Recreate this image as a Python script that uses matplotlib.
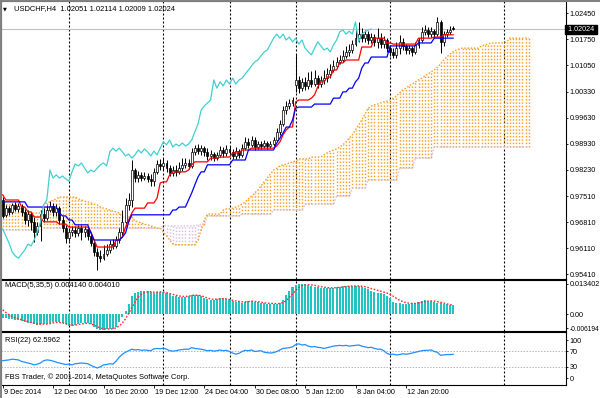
import numpy as np
import matplotlib
matplotlib.use("Agg")
import matplotlib.pyplot as plt
from matplotlib.transforms import ScaledTranslation

plt.rcParams['font.family'] = ['Liberation Sans', 'DejaVu Sans']

# ---------------- data ----------------
title_text = "USDCHF,H4  1.02051 1.02114 1.02009 1.02024"

open_ = [0.9741, 0.9701, 0.9719, 0.9709, 0.9728, 0.9717, 0.9725, 0.9709, 0.9687, 0.9703,
         0.9682, 0.9655, 0.9671, 0.9703, 0.9692, 0.9714, 0.9725, 0.9709, 0.9719, 0.9687,
         0.9665, 0.9638, 0.9655, 0.9660, 0.9652, 0.9665, 0.9655, 0.9663, 0.9644, 0.9625,
         0.9601, 0.9590, 0.9584, 0.9595, 0.9606, 0.9622, 0.9617, 0.9633, 0.9655, 0.9682,
         0.9728, 0.9741, 0.9822, 0.9800, 0.9809, 0.9800, 0.9806, 0.9798, 0.9792, 0.9817,
         0.9838, 0.9833, 0.9841, 0.9827, 0.9814, 0.9822, 0.9817, 0.9827, 0.9836, 0.9841,
         0.9833, 0.9871, 0.9881, 0.9873, 0.9881, 0.9871, 0.9860, 0.9865, 0.9854, 0.9863,
         0.9876, 0.9868, 0.9879, 0.9871, 0.9860, 0.9873, 0.9863, 0.9881, 0.9898, 0.9890,
         0.9903, 0.9884, 0.9892, 0.9887, 0.9895, 0.9887, 0.9892, 0.9903, 0.9925, 0.9946,
         0.9984, 0.9995, 1.0003, 1.0052, 1.0065, 1.0043, 1.0060, 1.0049, 1.0065, 1.0054,
         1.0070, 1.0054, 1.0065, 1.0070, 1.0081, 1.0092, 1.0103, 1.0114, 1.0119, 1.0130,
         1.0141, 1.0146, 1.0162, 1.0178, 1.0189, 1.0178, 1.0189, 1.0173, 1.0181, 1.0168,
         1.0178, 1.0162, 1.0173, 1.0151, 1.0141, 1.0133, 1.0151, 1.0168, 1.0157, 1.0146,
         1.0151, 1.0141, 1.0160, 1.0173, 1.0195, 1.0200, 1.0189, 1.0197, 1.0189, 1.0222,
         1.0168, 1.0189, 1.0195, 1.02051]
high_ = [0.9749, 0.9728, 0.9725, 0.9733, 0.9736, 0.9733, 0.9730, 0.9717, 0.9714, 0.9709,
         0.9695, 0.9682, 0.9714, 0.9719, 0.9728, 0.9738, 0.9733, 0.9730, 0.9725, 0.9698,
         0.9674, 0.9665, 0.9671, 0.9671, 0.9674, 0.9674, 0.9671, 0.9668, 0.9652, 0.9633,
         0.9611, 0.9606, 0.9620, 0.9622, 0.9633, 0.9636, 0.9644, 0.9665, 0.9714, 0.9746,
         0.9760, 0.9849, 0.9827, 0.9819, 0.9817, 0.9817, 0.9814, 0.9811, 0.9827, 0.9849,
         0.9852, 0.9854, 0.9849, 0.9836, 0.9833, 0.9836, 0.9844, 0.9854, 0.9854, 0.9852,
         0.9881, 0.9890, 0.9892, 0.9890, 0.9887, 0.9881, 0.9876, 0.9871, 0.9871, 0.9887,
         0.9884, 0.9890, 0.9887, 0.9879, 0.9884, 0.9879, 0.9892, 0.9911, 0.9908, 0.9914,
         0.9911, 0.9900, 0.9900, 0.9903, 0.9900, 0.9900, 0.9911, 0.9935, 0.9957, 0.9995,
         1.0008, 1.0014, 1.0019, 1.0135, 1.0076, 1.0070, 1.0073, 1.0087, 1.0089, 1.0092,
         1.0079, 1.0076, 1.0092, 1.0097, 1.0108, 1.0119, 1.0127, 1.0133, 1.0146, 1.0157,
         1.0162, 1.0173, 1.0200, 1.0222, 1.0205, 1.0200, 1.0197, 1.0192, 1.0189, 1.0205,
         1.0192, 1.0184, 1.0178, 1.0160, 1.0151, 1.0168, 1.0187, 1.0178, 1.0162, 1.0160,
         1.0157, 1.0168, 1.0178, 1.0208, 1.0214, 1.0208, 1.0208, 1.0203, 1.0235, 1.0227,
         1.0197, 1.0203, 1.0211, 1.02114]
low_ = [0.9692, 0.9695, 0.9701, 0.9703, 0.9711, 0.9709, 0.9698, 0.9676, 0.9671, 0.9660,
        0.9628, 0.9647, 0.9630, 0.9682, 0.9687, 0.9709, 0.9698, 0.9698, 0.9676, 0.9655,
        0.9625, 0.9630, 0.9644, 0.9641, 0.9644, 0.9633, 0.9641, 0.9633, 0.9617, 0.9590,
        0.9552, 0.9574, 0.9579, 0.9590, 0.9598, 0.9609, 0.9611, 0.9625, 0.9644, 0.9671,
        0.9714, 0.9722, 0.9790, 0.9790, 0.9792, 0.9795, 0.9790, 0.9779, 0.9779, 0.9811,
        0.9822, 0.9822, 0.9817, 0.9806, 0.9806, 0.9806, 0.9811, 0.9819, 0.9827, 0.9825,
        0.9827, 0.9863, 0.9865, 0.9863, 0.9860, 0.9849, 0.9849, 0.9846, 0.9849, 0.9857,
        0.9857, 0.9860, 0.9860, 0.9852, 0.9852, 0.9854, 0.9857, 0.9876, 0.9881, 0.9884,
        0.9876, 0.9879, 0.9879, 0.9881, 0.9879, 0.9881, 0.9887, 0.9898, 0.9917, 0.9941,
        0.9973, 0.9987, 0.9995, 1.0033, 1.0030, 1.0035, 1.0038, 1.0041, 1.0046, 1.0049,
        1.0043, 1.0046, 1.0054, 1.0060, 1.0070, 1.0087, 1.0097, 1.0108, 1.0114, 1.0124,
        1.0130, 1.0138, 1.0157, 1.0168, 1.0168, 1.0168, 1.0162, 1.0165, 1.0157, 1.0151,
        1.0151, 1.0151, 1.0141, 1.0130, 1.0124, 1.0124, 1.0135, 1.0146, 1.0135, 1.0135,
        1.0130, 1.0135, 1.0151, 1.0168, 1.0187, 1.0181, 1.0181, 1.0178, 1.0184, 1.0138,
        1.0157, 1.0181, 1.0189, 1.02009]
close_ = [0.9698, 0.9719, 0.9709, 0.9728, 0.9717, 0.9725, 0.9709, 0.9687, 0.9703, 0.9682,
          0.9655, 0.9671, 0.9703, 0.9692, 0.9714, 0.9725, 0.9709, 0.9719, 0.9687, 0.9665,
          0.9638, 0.9655, 0.9660, 0.9652, 0.9665, 0.9655, 0.9663, 0.9644, 0.9625, 0.9601,
          0.9590, 0.9584, 0.9595, 0.9606, 0.9622, 0.9617, 0.9633, 0.9655, 0.9682, 0.9728,
          0.9741, 0.9822, 0.9800, 0.9809, 0.9800, 0.9806, 0.9798, 0.9792, 0.9817, 0.9838,
          0.9833, 0.9841, 0.9827, 0.9814, 0.9822, 0.9817, 0.9827, 0.9836, 0.9841, 0.9833,
          0.9871, 0.9881, 0.9873, 0.9881, 0.9871, 0.9860, 0.9865, 0.9854, 0.9863, 0.9876,
          0.9868, 0.9879, 0.9871, 0.9860, 0.9873, 0.9863, 0.9881, 0.9898, 0.9890, 0.9903,
          0.9884, 0.9892, 0.9887, 0.9895, 0.9887, 0.9892, 0.9903, 0.9925, 0.9946, 0.9984,
          0.9995, 1.0003, 1.0011, 1.0065, 1.0043, 1.0060, 1.0049, 1.0065, 1.0054, 1.0070,
          1.0054, 1.0065, 1.0070, 1.0081, 1.0092, 1.0103, 1.0114, 1.0119, 1.0130, 1.0141,
          1.0146, 1.0162, 1.0178, 1.0189, 1.0178, 1.0189, 1.0173, 1.0181, 1.0168, 1.0178,
          1.0162, 1.0173, 1.0151, 1.0141, 1.0133, 1.0151, 1.0168, 1.0157, 1.0146, 1.0151,
          1.0141, 1.0160, 1.0173, 1.0195, 1.0200, 1.0189, 1.0197, 1.0189, 1.0222, 1.0168,
          1.0189, 1.0195, 1.0200, 1.02024]

tenkan = ([0.9755] + [0.9741]*5 + [0.9722]*2 + [0.9709]*2 + [0.9695]*3 + [0.9682]*5 +
          [0.9676]*3 + [0.9668]*7 + [0.9655] + [0.9633] + [0.9614]*6 + [0.9633]*2 +
          [0.9641] + [0.9668] + [0.9687] + [0.9706] + [0.9719]*4 + [0.9733]*3 + [0.9746] +
          [0.9787] + [0.9790]*2 + [0.9809] + [0.9817]*5 + [0.9822] + [0.9836] + [0.9844]*5 +
          [0.9854]*3 + [0.9857]*4 + [0.9868]*3 + [0.9876]*3 + [0.9881]*8 + [0.9887] +
          [0.9898] + [0.9917] + [0.9930] + [0.9938]*2 + [1.0006] + [1.0011]*4 + [1.0016] +
          [1.0025] + [1.0046] + [1.0060]*2 + [1.0073]*2 + [1.0092]*2 + [1.0111]*2 +
          [1.0119]*5 + [1.0154]*4 + [1.0178]*4 + [1.0165]*2 + [1.0162]*8 + [1.0178]*5 +
          [1.0181]*3 + [1.0187]*4)
kijun = ([0.9736]*8 + [0.9722]*10 + [0.9706] + [0.9698]*2 + [0.9687]*2 + [0.9674]*5 +
         [0.9652] + [0.9633]*9 + [0.9641] + [0.9652] + [0.9682] + [0.9701]*13 +
         [0.9714]*2 + [0.9722]*3 + [0.9741] + [0.9760] + [0.9782] + [0.9803] + [0.9817]*2 +
         [0.9836]*8 + [0.9849]*5 + [0.9876]*9 + [0.9895] + [0.9908] + [0.9922] +
         [0.9938]*2 + [0.9957] + [0.9989] + [0.9992]*5 + [1.0000]*6 + [1.0016]*3 +
         [1.0033]*2 + [1.0043]*2 + [1.0060] + [1.0070] + [1.0097] + [1.0111]*2 +
         [1.0127]*6 + [1.0157]*9 + [1.0165]*5 + [1.0178]*7)
span_a = ([0.9728]*6 + [0.9706]*7 + [0.9728, 0.9733, 0.9736, 0.9741, 0.9744] + [0.9749]*6 +
          [0.9744, 0.9741, 0.9738, 0.9736, 0.9733, 0.9730, 0.9728] +
          [0.9722, 0.9719, 0.9717, 0.9714, 0.9711, 0.9709, 0.9706] + [0.9695]*4 +
          [0.9684, 0.9682, 0.9679, 0.9676, 0.9674, 0.9671, 0.9668, 0.9665, 0.9665] +
          [0.9655, 0.9644, 0.9633, 0.9622] + [0.9620]*7 + [0.9633, 0.9660, 0.9687] +
          [0.9703]*5 + [0.9714, 0.9717, 0.9717, 0.9719, 0.9722, 0.9725] +
          [0.9730, 0.9736, 0.9744, 0.9752, 0.9760, 0.9768, 0.9779, 0.9790, 0.9800, 0.9811, 0.9822] +
          [0.9827, 0.9833, 0.9836, 0.9838, 0.9841, 0.9844, 0.9846] + [0.9852]*4 + [0.9857]*4 +
          [0.9863, 0.9868, 0.9873, 0.9876, 0.9879, 0.9884, 0.9890, 0.9898, 0.9908, 0.9917, 0.9930] +
          [0.9944, 0.9957, 0.9973, 0.9989, 0.9995, 0.9998, 1.0000, 1.0003, 1.0006, 1.0008, 1.0011] +
          [1.0016, 1.0022, 1.0030, 1.0038, 1.0043, 1.0049, 1.0054, 1.0060, 1.0065, 1.0070,
           1.0076, 1.0081, 1.0087, 1.0092] +
          [1.0100, 1.0108, 1.0119, 1.0127, 1.0135, 1.0141, 1.0146, 1.0149] + [1.0151]*6 +
          [1.0157, 1.0160, 1.0162] + [1.0165]*5 + [1.0168] + [1.0178]*7)
span_b = ([0.9660]*13 + [0.9665]*38 + [0.9671]*11 + [0.9674]*3 + [0.9698]*11 +
          [0.9703]*10 + [0.9714]*10 + [0.9730]*10 + [0.9752]*5 + [0.9773]*5 +
          [0.9795]*10 + [0.9827]*5 + [0.9854]*6 + [0.9884]*31)

macd_main = [-0.0015, -0.0018, -0.0020, -0.0022, -0.0023, -0.0026, -0.0030, -0.0035, -0.0038, -0.0040,
             -0.0045, -0.0046, -0.0044, -0.0042, -0.0043, -0.0040, -0.0035, -0.0034, -0.0036, -0.0040,
             -0.0045, -0.0050, -0.0050, -0.0048, -0.0043, -0.0040, -0.0038, -0.0040, -0.0045, -0.0055,
             -0.0065, -0.0068, -0.0068, -0.0066, -0.0065, -0.0063, -0.0055, -0.0035, -0.0010, 0.0015,
             0.0045, 0.0080, 0.0095, 0.0100, 0.0102, 0.0102, 0.0102, 0.0100, 0.0096, 0.0098,
             0.0100, 0.0098, 0.0094, 0.0088, 0.0082, 0.0080, 0.0078, 0.0076, 0.0078, 0.0082,
             0.0086, 0.0086, 0.0084, 0.0080, 0.0072, 0.0066, 0.0064, 0.0065, 0.0068, 0.0070,
             0.0070, 0.0068, 0.0062, 0.0058, 0.0056, 0.0055, 0.0052, 0.0056, 0.0058, 0.0060,
             0.0056, 0.0054, 0.0052, 0.0049, 0.0047, 0.0046, 0.0046, 0.0046, 0.0050, 0.0065,
             0.0085, 0.0105, 0.0120, 0.0130, 0.0134, 0.0134, 0.0133, 0.0130, 0.0126, 0.0122,
             0.0119, 0.0117, 0.0116, 0.0116, 0.0117, 0.0118, 0.0120, 0.0122, 0.0124, 0.0125,
             0.0126, 0.0126, 0.0125, 0.0124, 0.0120, 0.0115, 0.0110, 0.0105, 0.0100, 0.0096,
             0.0093, 0.0088, 0.0080, 0.0072, 0.0055, 0.0050, 0.0048, 0.0046, 0.0045, 0.0046,
             0.0048, 0.0050, 0.0056, 0.0060, 0.0062, 0.0060, 0.0060, 0.0056, 0.0052, 0.0048,
             0.0046, 0.0044, 0.0042, 0.004140]
macd_signal = [0.0020, 0.0008, -0.0003, -0.0010, -0.0016, -0.0020, -0.0024, -0.0028, -0.0032, -0.0036,
               -0.0040, -0.0043, -0.0044, -0.0043, -0.0043, -0.0041, -0.0038, -0.0036, -0.0036, -0.0038,
               -0.0042, -0.0046, -0.0048, -0.0048, -0.0045, -0.0043, -0.0040, -0.0040, -0.0042, -0.0048,
               -0.0055, -0.0060, -0.0064, -0.0065, -0.0065, -0.0064, -0.0060, -0.0052, -0.0038, -0.0020,
               0.0005, 0.0030, 0.0055, 0.0075, 0.0088, 0.0095, 0.0099, 0.0100, 0.0098, 0.0098,
               0.0099, 0.0098, 0.0096, 0.0092, 0.0088, 0.0084, 0.0081, 0.0079, 0.0079, 0.0080,
               0.0083, 0.0085, 0.0084, 0.0082, 0.0077, 0.0072, 0.0068, 0.0066, 0.0067, 0.0068,
               0.0069, 0.0068, 0.0065, 0.0062, 0.0059, 0.0057, 0.0055, 0.0055, 0.0056, 0.0058,
               0.0057, 0.0056, 0.0054, 0.0051, 0.0049, 0.0048, 0.0048, 0.0047, 0.0048, 0.0052,
               0.0060, 0.0075, 0.0090, 0.0105, 0.0118, 0.0126, 0.0130, 0.0131, 0.0130, 0.0128,
               0.0125, 0.0122, 0.0120, 0.0118, 0.0117, 0.0117, 0.0118, 0.0119, 0.0121, 0.0123,
               0.0124, 0.0125, 0.0125, 0.0125, 0.0124, 0.0122, 0.0118, 0.0114, 0.0110, 0.0106,
               0.0102, 0.0098, 0.0094, 0.0088, 0.0080, 0.0070, 0.0062, 0.0056, 0.0052, 0.0049,
               0.0048, 0.0048, 0.0050, 0.0053, 0.0056, 0.0058, 0.0059, 0.0058, 0.0056, 0.0053,
               0.0050, 0.0046, 0.0043, 0.004010]
rsi = [46, 47, 48, 50, 49, 48, 44, 42, 40, 38, 35, 37, 40, 46, 48, 47, 45, 42, 40, 38,
       36, 37, 35, 38, 39, 40, 39, 38, 34, 30, 27, 30, 35, 36, 38, 37, 45, 55, 63, 68,
       72, 76, 74, 75, 73, 74, 73, 72, 77, 78, 77, 79, 76, 72, 71, 72, 74, 75, 76, 76,
       80, 78, 77, 76, 74, 72, 73, 71, 72, 74, 72, 73, 70, 66, 63, 65, 70, 73, 72, 74,
       70, 71, 72, 68, 67, 66, 67, 70, 74, 78, 79, 80, 82, 88, 90, 87, 88, 84, 82, 83,
       81, 80, 78, 80, 82, 84, 85, 86, 85, 86, 84, 85, 86, 87, 84, 82, 80, 81, 78, 76,
       76, 72, 65, 62, 63, 61, 62, 64, 63, 64, 66, 68, 70, 72, 73, 73, 74, 70, 68, 60,
       61, 62, 62, 62.5962]

week_start_bars = [21, 51, 72, 93, 123, 159]
time_tick_bars = [0, 16, 32, 48, 64, 80, 96, 112, 128]
time_tick_labels = ['9 Dec 2014', '12 Dec 04:00', '16 Dec 20:00', '19 Dec 12:00',
                    '24 Dec 04:00', '30 Dec 08:00', '5 Jan 12:00', '8 Jan 04:00', '12 Jan 20:00']
price_ticks = [1.02450, 1.01750, 1.01050, 1.00330, 0.99630, 0.98930,
               0.98230, 0.97510, 0.96810, 0.96110, 0.95410]
last_price = 1.02024
macd_ticks = [0.013402, 0.0, -0.006194]
macd_tick_labels = ['0.013402', '0.00', '-0.006194']
rsi_ticks = [100, 70, 30, 0]
rsi_levels = [70, 30]
chikou_shift = 26

for arr in (open_, high_, low_, close_, tenkan, kijun, macd_main, macd_signal, rsi):
    assert len(arr) == 144, len(arr)
assert len(span_a) == 168 and len(span_b) == 168, (len(span_a), len(span_b))

# ---------------- figure ----------------
W, H = 600, 398
fig = plt.figure(figsize=(W / 100, H / 100), dpi=100)
fig.patch.set_facecolor('white')

def panel(top, bottom):
    return fig.add_axes([1 / W, 1 - bottom / H, 565 / W, (bottom - top) / H])

ax = panel(1, 279)
axm = panel(280, 331)
axr = panel(332, 385)

o = np.array(open_); hi = np.array(high_); lo = np.array(low_); c = np.array(close_)
N = len(c)
idx = np.arange(N)
cidx = np.arange(len(span_a))
sa = np.array(span_a); sb = np.array(span_b)

x_lim = ((1 - 2.7) / 3.15, (566 - 2.7) / 3.15)
FS = 5.2

for a in (ax, axm, axr):
    a.set_xlim(*x_lim)
    a.set_facecolor('white')
    for s in a.spines.values():
        s.set_color('black')
        s.set_linewidth(0.8)
    a.yaxis.tick_right()
    a.tick_params(axis='y', which='both', direction='out', length=1.6, width=0.6,
                  pad=0.8, labelsize=FS, colors='black')
    for wk in week_start_bars:
        a.axvline(wk, color='black', lw=0.8, ls=(0, (1.8, 1.8)), zorder=0.5)

# ---- cloud (dotted histogram style) ----
bull = sa >= sb
orange = '#f7a029'
thistle = '#d8bfd8'
ax.vlines(cidx[bull], sb[bull], sa[bull], colors=orange, lw=1.05,
          linestyles=(0, (1.0, 1.3)), zorder=1)
ax.vlines(cidx[~bull], sa[~bull], sb[~bull], colors=thistle, lw=1.05,
          linestyles=(0, (1.0, 1.3)), zorder=1)
ax.plot(cidx, sa, color=orange, lw=1.0, ls=(0, (1.1, 1.2)), zorder=1.2)
ax.plot(cidx, sb, color=thistle, lw=1.0, ls=(0, (1.1, 1.2)), zorder=1.2)

# current price line
ax.axhline(last_price, color='#c0c0c0', lw=0.8, zorder=0.8)

# ---- candles ----
up = c >= o
ax.vlines(idx, lo, hi, color='black', lw=0.7, zorder=3)
ax.bar(idx[up], (c - o)[up], bottom=o[up], width=0.62, color='white',
       edgecolor='black', linewidth=0.5, zorder=3.2)
ax.bar(idx[~up], (o - c)[~up], bottom=c[~up], width=0.62, color='black',
       edgecolor='black', linewidth=0.5, zorder=3.2)

# ---- ichimoku lines ----
ax.plot(idx, tenkan, color='#ff0000', lw=0.9, zorder=4)
ax.plot(idx, kijun, color='#0000ff', lw=0.9, zorder=4)
ax.plot(idx[:N - chikou_shift], c[chikou_shift:], color='#40d0d0', lw=0.9, zorder=4)

ax.set_ylim(0.95277, 1.02783)
ax.set_yticks(price_ticks)
ax.set_yticklabels(['%.5f' % v for v in price_ticks])
ax.set_xticks([])

# ---- MACD ----
axm.bar(idx, macd_main, width=0.66, color='#22c3c3', edgecolor='none', zorder=2)
axm.plot(idx, macd_signal, color='#ff2a2a', lw=1.0, ls=(0, (1.2, 1.2)), zorder=3)
axm.set_ylim(-0.00738, 0.01516)
axm.set_yticks(macd_ticks)
axm.set_yticklabels(macd_tick_labels)
axm.get_yticklabels()[2].set_fontsize(4.8)
axm.set_xticks([])

# ---- RSI ----
for lv in rsi_levels:
    axr.axhline(lv, color='#b4b4b4', lw=0.7, ls=(0, (1.5, 1.5)), zorder=1)
axr.plot(idx, rsi, color='#1e90ff', lw=0.9, zorder=3)
axr.set_ylim(-17.5, 120.9)
axr.set_yticks(rsi_ticks)
axr.set_yticklabels([str(v) for v in rsi_ticks])
axr.set_xticks(time_tick_bars)
axr.set_xticklabels(time_tick_labels)
axr.tick_params(axis='x', direction='out', length=2.5, width=0.6, pad=0.6,
                labelsize=FS, colors='black')
off = ScaledTranslation(1.0 / 100, 0, fig.dpi_scale_trans)
for lab in axr.get_xticklabels():
    lab.set_horizontalalignment('left')
    lab.set_transform(lab.get_transform() + off)

# ---- texts ----
fig.text(3 / W, 1 - 9 / H, '\u25bc', fontsize=3.6, family=['DejaVu Sans'],
         va='center', ha='left', color='black')
fig.text(14 / W, 1 - 9 / H, title_text, fontsize=5.4, va='center', ha='left', color='black')
fig.text(5 / W, 1 - 285.5 / H, 'MACD(5,35,5) 0.004140 0.004010', fontsize=5.4,
         va='center', ha='left', color='black')
fig.text(5 / W, 1 - 341 / H, 'RSI(22) 62.5962', fontsize=5.4, va='center', ha='left', color='black')
fig.text(5 / W, 1 - 377.5 / H, 'FBS Trader, \u00a9 2001-2014, MetaQuotes Software Corp.',
         fontsize=5.4, va='center', ha='left', color='black')

# price tag on the right scale
ax.text(1.0, last_price, ' 1.02024 ', transform=ax.get_yaxis_transform(),
        fontsize=FS, color='white', va='center', ha='left', zorder=10, clip_on=False,
        bbox=dict(boxstyle='square,pad=0.15', facecolor='black', edgecolor='black'))

# window frame (grey left/top borders)
fig.add_artist(plt.Line2D([0.6 / W, 0.6 / W], [0, 1], color='#808080', lw=1.4,
                          transform=fig.transFigure))
fig.add_artist(plt.Line2D([0, 1], [1 - 0.6 / H, 1 - 0.6 / H], color='#808080', lw=1.4,
                          transform=fig.transFigure))

fig.savefig('out.png', dpi=100, facecolor='white')
